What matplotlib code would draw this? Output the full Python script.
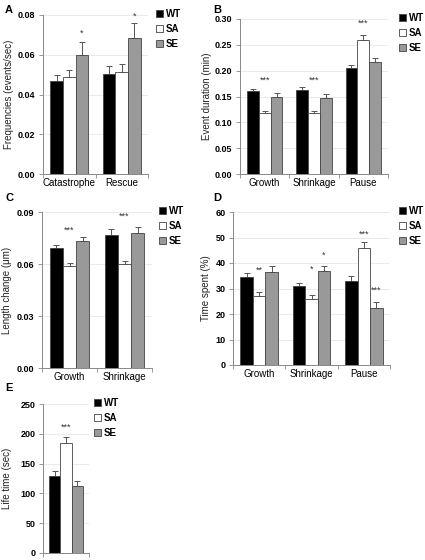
import numpy as np
import matplotlib
matplotlib.use("Agg")
import matplotlib.pyplot as plt
from matplotlib.patches import Patch

plt.rcParams['font.family'] = ['Liberation Sans', 'DejaVu Sans']

strains = ['WT', 'SA', 'SE']
colors = ['#000000', '#ffffff', '#999999']

# A
a_cats = ['Catastrophe', 'Rescue']
a_vals = [[0.047, 0.0487, 0.060], [0.0503, 0.0515, 0.0685]]
a_err = [[0.003, 0.0037, 0.0065], [0.004, 0.004, 0.0075]]
a_stars = [(2, 0.071, '*'), (2, 0.0795, '*')]

# B
b_cats = ['Growth', 'Shrinkage', 'Pause']
b_vals = [[0.160, 0.118, 0.150], [0.163, 0.118, 0.148], [0.205, 0.259, 0.216]]
b_err = [[0.005, 0.004, 0.006], [0.006, 0.004, 0.007], [0.006, 0.010, 0.008]]
b_stars = [(1, 0.181, '***'), (1, 0.181, '***'), (1, 0.291, '***')]

# C
c_cats = ['Growth', 'Shrinkage']
c_vals = [[0.069, 0.059, 0.073], [0.077, 0.060, 0.078]]
c_err = [[0.002, 0.0015, 0.0025], [0.003, 0.0015, 0.0035]]
c_stars = [(1, 0.0796, '***'), (1, 0.0875, '***')]

# D
d_cats = ['Growth', 'Shrinkage', 'Pause']
d_vals = [[34.5, 27.0, 36.5], [30.8, 25.8, 36.7], [33.0, 46.0, 22.5]]
d_err = [[1.6, 1.8, 2.2], [1.5, 1.6, 2.3], [1.8, 2.3, 2.4]]
d_stars = [[(1, 37.3, '**')], [(1, 37.6, '*'), (2, 43.0, '*')],
           [(1, 51.4, '***'), (2, 29.4, '***')]]

# E
e_cats = ['']
e_vals = [[130, 184, 113]]
e_err = [[8, 11, 8]]
e_stars = [(1, 211, '***')]

W, H = 425, 560
fig = plt.figure(figsize=(W / 100, H / 100), dpi=100)


def panel(box, cats, vals, err, ymax, step, fmt, ylabel, stars, label_x, leg_x):
    l, t, r, b = box
    ax = fig.add_axes([l / W, 1 - b / H, (r - l) / W, (b - t) / H])
    n = len(cats)
    w = 0.24
    for g in range(n):
        for k in range(3):
            x = g + 0.5 + (k - 1) * w
            ax.bar(x, vals[g][k], w, color=colors[k], edgecolor='#444444', linewidth=0.6, zorder=3)
            ax.errorbar(x, vals[g][k], yerr=[[0], [err[g][k]]], fmt='none',
                        ecolor='#555555', elinewidth=0.7, capsize=2.5, capthick=0.7, zorder=2)
    for g, st in enumerate(stars):
        if isinstance(st, tuple):
            st = [st]
        for k, y, s in st:
            ax.text(g + 0.5 + (k - 1) * w, y, s, ha='center', va='center',
                    fontsize=6.5, color='#333333')
    ax.set_xlim(0, n)
    ax.set_ylim(0, ymax)
    ticks = np.arange(0, ymax + step / 2, step)
    ax.set_yticks(ticks)
    ax.set_yticklabels([fmt.format(t) for t in ticks], fontsize=6.5, fontweight='bold')
    ax.set_xticks([g + 0.5 for g in range(n)])
    ax.set_xticklabels(cats, fontsize=7)
    ax.set_xticks(range(n + 1), minor=True)
    ax.tick_params(axis='x', which='major', length=0, pad=3)
    ax.tick_params(axis='x', which='minor', length=3, color='#888888', width=0.6)
    ax.tick_params(axis='y', length=3, color='#888888', width=0.6, pad=2.5)
    ax.yaxis.grid(True, color='#e6e6e6', linewidth=0.6, zorder=0)
    ax.set_axisbelow(True)
    for s in ['top', 'right']:
        ax.spines[s].set_visible(False)
    for s in ['left', 'bottom']:
        ax.spines[s].set_color('#888888')
        ax.spines[s].set_linewidth(0.7)
    ax.set_ylabel(ylabel, fontsize=7, color='#222222')
    ax.yaxis.set_label_coords(label_x / W, 1 - (t + b) / 2 / H, transform=fig.transFigure)
    handles = [Patch(facecolor=c, edgecolor='#444444', linewidth=0.6) for c in colors]
    ax.legend(handles, strains, loc='upper left', bbox_to_anchor=(leg_x / W, 1 - (t - 6) / H),
              bbox_transform=fig.transFigure, frameon=False, handlelength=0.7,
              handleheight=0.7, handletextpad=0.3, labelspacing=0.5, borderaxespad=0,
              borderpad=0, prop={'size': 7, 'weight': 'bold'})
    return ax


panel((43, 15, 148, 174), a_cats, a_vals, a_err, 0.08, 0.02, '{:.2f}',
      'Frequencies (events/sec)', a_stars, 14, 156)
panel((240, 19, 388, 174), b_cats, b_vals, b_err, 0.30, 0.05, '{:.2f}',
      'Event duration (min)', b_stars, 212, 399)
panel((42, 212, 152, 368), c_cats, c_vals, c_err, 0.09, 0.03, '{:.2f}',
      'Length change (\u03bcm)', c_stars, 12, 159)
panel((233, 212, 390, 365), d_cats, d_vals, d_err, 60, 10, '{:.0f}',
      'Time spent (%)', d_stars, 211, 399)
panel((43, 404, 89, 553), e_cats, e_vals, e_err, 250, 50, '{:.0f}',
      'Life time (sec)', e_stars, 12, 94)

for lab, x, y in [('A', 5, 5), ('B', 213, 5), ('C', 5, 193), ('D', 213, 193), ('E', 5, 383)]:
    fig.text(x / W, 1 - y / H, lab, fontsize=8, fontweight='bold', va='top', ha='left')

fig.savefig('out.png', dpi=100)
